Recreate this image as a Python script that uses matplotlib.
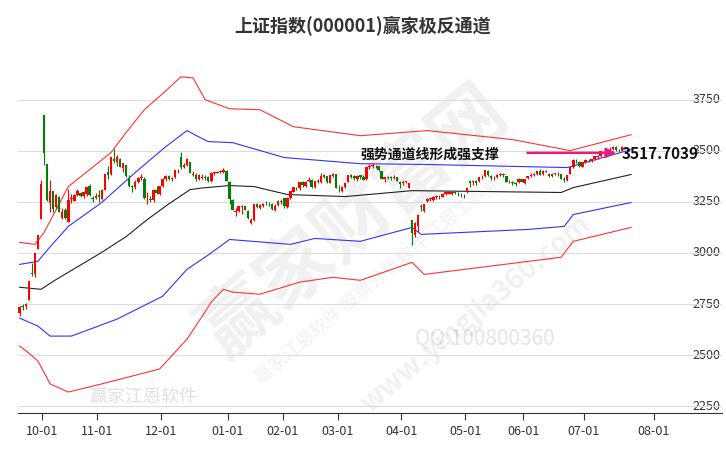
import numpy as np
import matplotlib.pyplot as plt
import matplotlib.transforms as mtransforms

plt.rcParams['font.family'] = ['Noto Sans CJK SC', 'DejaVu Sans']

# trading days per month, Sep 2024 (from 09-19) .. Jul 2025 (to 07-17)
month_days = [8, 18, 21, 22, 18, 18, 21, 21, 19, 20, 13]
month_labels = ['10-01', '11-01', '12-01', '01-01', '02-01', '03-01',
                '04-01', '05-01', '06-01', '07-01', '08-01']

closes = [2736,2736,2748,2863,2896,3000,3087,3336,
          3489,3258,3301,3217,3284,3202,3202,3169,3261,3268,3285,3302,3280,3300,3322,3286,3266,3279,
          3272,3310,3387,3384,3470,3452,3470,3421,3439,3379,3330,3324,3346,3368,3370,3267,3263,3259,3309,3295,3326,
          3363,3378,3364,3368,3404,3402,3422,3432,3461,3391,3386,3361,3382,3371,3368,3352,3393,3394,3398,3400,3407,3352,
          3262,3211,3206,3230,3230,3211,3169,3160,3240,3227,3236,3241,3244,3243,3213,3230,3252,3250,
          3229,3270,3303,3322,3318,3346,3332,3346,3355,3324,3351,3350,3379,3373,3346,3380,3388,3320,
          3316,3324,3341,3381,3372,3366,3379,3371,3358,3419,3426,3429,3426,3408,3364,3370,3369,3368,3373,3351,3336,
          3348,3350,3342,3097,3145,3186,3224,3238,3263,3267,3276,3280,3277,3291,3300,3296,3297,3295,3288,3287,3279,
          3316,3343,3352,3342,3370,3374,3404,3380,3367,3368,3381,3387,3380,3348,3346,3340,3339,3363,3347,
          3361,3376,3384,3385,3399,3384,3402,3402,3377,3388,3387,3388,3362,3359,3381,3420,3455,3448,3424,3444,
          3457,3454,3461,3473,3473,3497,3493,3509,3510,3520,3505,3503,3517.70]
opens = [2704,2738,2740,2771,2900,2898,3017,3165,
         3674,3433,3245,3305,3225,3275,3170,3210,3150,3262,3255,3285,3295,3278,3290,3330,3270,3269,
         3283,3262,3310,3395,3385,3460,3445,3458,3415,3431,3360,3325,3321,3345,3365,3364,3262,3262,3258,3309,3290,
         3328,3360,3376,3360,3370,3400,3470,3420,3430,3446,3380,3380,3360,3365,3370,3370,3350,3392,3392,3395,3398,3400,
         3347,3260,3200,3206,3225,3228,3205,3148,3160,3240,3220,3230,3245,3245,3240,3210,3235,3255,
         3270,3225,3270,3300,3320,3320,3345,3330,3350,3355,3322,3348,3345,3380,3375,3342,3378,3385,
         3320,3305,3325,3345,3380,3375,3360,3380,3370,3360,3420,3428,3425,3425,3400,3360,3370,3370,3365,3370,3348,
         3340,3345,3320,3160,3090,3130,3230,3205,3255,3265,3260,3275,3278,3276,3290,3290,3290,3296,3290,3288,3280,
         3300,3350,3346,3350,3350,3370,3375,3400,3375,3366,3372,3384,3385,3375,3345,3345,3340,3345,3360,
         3340,3365,3376,3382,3385,3400,3385,3398,3385,3375,3390,3385,3385,3360,3355,3385,3420,3452,3445,3423,
         3445,3455,3450,3460,3470,3475,3495,3490,3508,3510,3520,3505,3500]
highs = [2740,2750,2755,2863,2952,3000,3088,3358,
         3674,3433,3358,3305,3290,3278,3220,3218,3315,3290,3290,3314,3300,3305,3325,3336,3280,3294,
         3307,3312,3387,3427,3470,3510,3480,3464,3441,3432,3380,3335,3357,3370,3385,3372,3300,3280,3312,3330,3326,
         3365,3380,3380,3372,3406,3410,3494,3440,3464,3447,3400,3390,3385,3385,3380,3375,3394,3400,3402,3405,3417,3408,
         3351,3264,3218,3230,3233,3230,3210,3170,3240,3243,3240,3245,3256,3250,3244,3240,3260,3262,
         3270,3272,3305,3325,3325,3346,3350,3350,3370,3360,3352,3360,3390,3385,3378,3382,3390,3388,
         3335,3326,3344,3382,3385,3380,3380,3384,3380,3420,3435,3440,3432,3426,3402,3372,3375,3375,3380,3372,3350,
         3356,3352,3342,3160,3150,3190,3240,3240,3270,3276,3280,3285,3285,3295,3302,3305,3300,3305,3298,3294,3290,
         3318,3356,3356,3355,3370,3380,3405,3405,3380,3375,3385,3392,3391,3378,3358,3350,3348,3365,3364,
         3361,3376,3390,3390,3400,3410,3405,3405,3390,3390,3392,3395,3388,3370,3382,3422,3458,3460,3448,3445,
         3460,3462,3462,3475,3480,3497,3500,3510,3520,3525,3525,3510,3522]
lows = [2690,2720,2725,2770,2889,2880,3017,3165,
        3431,3254,3201,3200,3215,3200,3168,3167,3152,3245,3252,3278,3275,3270,3280,3280,3250,3262,
        3250,3258,3307,3362,3380,3442,3425,3420,3398,3370,3325,3300,3315,3342,3355,3266,3240,3250,3248,3290,3285,
        3325,3350,3355,3350,3365,3390,3410,3415,3425,3390,3375,3350,3355,3360,3355,3345,3345,3380,3390,3390,3393,3352,
        3242,3208,3180,3200,3190,3210,3165,3141,3158,3220,3215,3225,3235,3232,3210,3205,3230,3240,
        3220,3222,3262,3298,3310,3310,3325,3325,3345,3320,3320,3340,3340,3365,3340,3340,3370,3318,
        3300,3300,3320,3345,3365,3355,3350,3360,3355,3358,3410,3418,3415,3400,3360,3345,3360,3355,3360,3350,3320,
        3335,3340,3320,3040,3076,3102,3205,3200,3250,3255,3253,3265,3265,3275,3285,3288,3285,3290,3280,3275,3270,
        3295,3325,3335,3335,3345,3360,3372,3375,3358,3355,3368,3378,3372,3345,3340,3335,3330,3340,3345,
        3338,3360,3372,3375,3380,3380,3382,3395,3370,3370,3380,3378,3360,3348,3350,3385,3415,3440,3420,3420,
        3440,3445,3445,3455,3460,3470,3485,3488,3497,3505,3500,3495,3498]

# channel lines, read at sample days (index, value)
mid_idx = [0, 7, 12, 27, 35, 42, 49, 56, 60, 69, 77, 88, 107, 129, 178, 182, 201]
mid_val = [2832, 2822, 2870, 3003, 3080, 3164, 3240, 3310, 3318, 3330, 3325, 3286, 3276, 3305, 3296, 3320, 3384]
up1_idx = [0, 6, 10, 16, 27, 38, 48, 55, 58, 62, 70, 87, 112, 134, 180, 201]
up1_val = [2944, 2959, 3030, 3130, 3247, 3394, 3520, 3599, 3575, 3545, 3540, 3467, 3437, 3433, 3418, 3506]
up2_idx = [0, 5, 8, 16, 30, 35, 41, 47, 53, 57, 61, 69, 79, 90, 112, 134, 162, 181, 201]
up2_val = [3052, 3042, 3100, 3325, 3491, 3590, 3701, 3780, 3862, 3857, 3750, 3706, 3701, 3618, 3574, 3599, 3555, 3501, 3579]
dn1_idx = [0, 6, 10, 17, 32, 47, 55, 62, 69, 89, 97, 112, 129, 132, 167, 179, 182, 201]
dn1_val = [2681, 2642, 2593, 2593, 2676, 2788, 2920, 2990, 3066, 3042, 3071, 3057, 3125, 3091, 3115, 3130, 3188, 3247]
dn2_idx = [0, 3, 6, 10, 16, 27, 46, 55, 60, 63, 67, 70, 79, 92, 103, 112, 129, 133, 178, 182, 201]
dn2_val = [2544, 2510, 2471, 2359, 2319, 2359, 2432, 2578, 2690, 2760, 2822, 2808, 2798, 2857, 2881, 2866, 2954, 2895, 2979, 3057, 3125]

fig = plt.figure(figsize=(7.26, 4.5), dpi=100)
ax = fig.add_axes([0.025, 0.082, 0.97, 0.818])

x = np.arange(len(closes))
for i in x:
    o, c, h, l = opens[i], closes[i], highs[i], lows[i]
    col = '#ff0000' if c >= o else '#008000'
    ax.vlines(i, l, h, color=col, linewidth=0.8, zorder=3)
    ax.bar(i, max(abs(c - o), 2), bottom=min(o, c), width=0.8, color=col, zorder=4)

ax.plot(mid_idx, mid_val, color='#222222', lw=0.8, zorder=2)
ax.plot(up1_idx, up1_val, color='#3333ff', lw=0.8, zorder=2)
ax.plot(dn1_idx, dn1_val, color='#3333ff', lw=0.8, zorder=2)
ax.plot(up2_idx, up2_val, color='#ff3333', lw=0.8, zorder=2)
ax.plot(dn2_idx, dn2_val, color='#ff3333', lw=0.8, zorder=2)

# x ticks at month starts
starts = np.cumsum(month_days)
ticks = [s - 0.5 for s in starts[:-1]] + [starts[-2] + 23 - 0.5]
ax.set_xticks(ticks)
ax.set_xticklabels(month_labels, fontsize=9, color='#333333')
ax.tick_params(axis='x', length=5, color='#333333')

yticks = [2250, 2500, 2750, 3000, 3250, 3500, 3750]
ax.set_yticks(yticks)
ax.set_yticklabels([])
ax.tick_params(axis='y', length=0)
ax.grid(axis='y', color='#dddddd', lw=0.8, zorder=0)
tr = mtransforms.blended_transform_factory(ax.transAxes, ax.transData)
for yv in yticks:
    ax.text(0.997, yv, str(yv), transform=tr, ha='right', va='center', fontsize=9, color='#333333', zorder=1)

ax.set_xlim(-0.5, 231)
ax.set_ylim(2216, 4018)
for s in ['top', 'left', 'right']:
    ax.spines[s].set_visible(False)
ax.spines['bottom'].set_color('#333333')

# watermarks
ax.text(110, 3150, '赢家财富网', fontsize=54, color='#000000', alpha=0.06, rotation=40,
        ha='center', va='center', fontweight='bold', zorder=1)
ax.text(120, 2900, '赢家江恩软件 股票分析软件 江恩工具软件', fontsize=13, color='#000000', alpha=0.06,
        rotation=40, ha='center', va='center', zorder=1)
ax.text(150, 2700, 'www.yingjia360.com', fontsize=20, color='#000000', alpha=0.06, rotation=40,
        ha='center', va='center', fontweight='bold', zorder=1)
ax.text(130, 2550, 'QQ:100800360', fontsize=15, color='#000000', alpha=0.1, ha='left', zorder=1)
ax.text(23, 2270, '赢家江恩软件', fontsize=13, color='#000000', alpha=0.12, ha='left', zorder=1)

# annotation
ax.text(112, 3482, '强势通道线形成强支撑', fontsize=10, fontweight='bold', color='#111111',
        ha='left', va='center', zorder=6)
ax.annotate('', xy=(197, 3490), xytext=(166, 3490),
            arrowprops=dict(arrowstyle='-|>', color='#e0207a', lw=1.8, mutation_scale=14), zorder=6)
ax.text(198, 3482, '3517.7039', fontsize=11, fontweight='bold', color='#111111',
        ha='left', va='center', zorder=6)

fig.suptitle('上证指数(000001)赢家极反通道', fontsize=13, fontweight='bold', color='#333333', y=0.965)

fig.savefig('out.png', dpi=100)
